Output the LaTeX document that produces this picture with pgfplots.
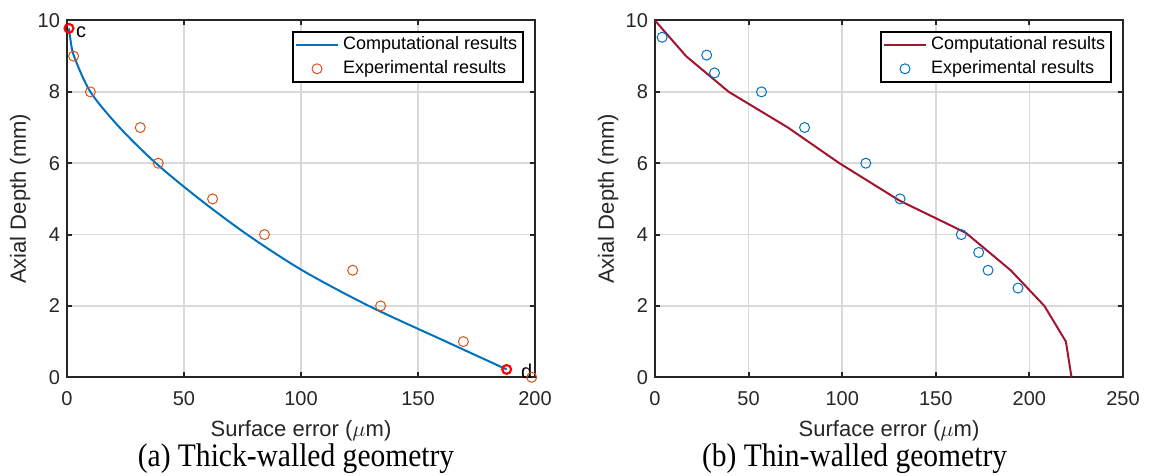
\documentclass[border=0pt]{standalone}
\usepackage{pgfplots}
\pgfplotsset{compat=1.18}
\usepackage{fontspec}
\setmainfont{Liberation Sans}
\newfontfamily\capfont[FakeStretch=0.9]{Liberation Serif}
\definecolor{mblue}{rgb}{0,0.447,0.741}
\definecolor{morange}{rgb}{0.85,0.325,0.098}
\definecolor{mred}{rgb}{0.635,0.078,0.184}
\definecolor{axgray}{rgb}{0.15,0.15,0.15}
\pgfplotsset{
  myaxis/.style={
    scale only axis, width=234pt, height=178.4pt,
    clip=false,
    axis line style={draw=axgray, line width=1pt},
    tick style={draw=axgray, line width=1pt},
    major tick length=2.5pt,
    tick align=inside,
    grid=major,
    major grid style={draw=black!15, line width=0.75pt},
    ymin=0, ymax=10, ytick={0,2,...,10},
    ticklabel style={font=\fontsize{10}{12}\selectfont, text=axgray},
    /pgf/number format/assume math mode=true,
    xticklabel style={yshift=-3.7pt},
    xlabel style={at={(axis description cs:0.5,0)}, anchor=base, yshift=-29.6pt, font=\fontsize{11}{12}\selectfont, text=axgray, inner sep=1pt},
    ylabel style={at={(axis description cs:-0.1,0.5)}, anchor=center, font=\fontsize{11}{13}\selectfont, text=axgray},
    xlabel={Surface error ($\mu$m)},
    ylabel={Axial Depth (mm)},
    legend style={at={(axis description cs:0.9765,0.971)}, anchor=north east, draw=black, line width=0.9pt,
      font=\fontsize{9}{10.5}\selectfont, inner xsep=1pt, inner ysep=0.5pt, row sep=0pt, cells={anchor=west}},
    legend image code/.code={\draw[mark repeat=2,mark phase=2,#1] plot coordinates {(0pt,0pt) (10.5pt,0pt) (21pt,0pt)};},
  }
}
\begin{document}
\begin{tikzpicture}
\useasboundingbox (0,0) rectangle (575pt,238pt);
\begin{axis}[myaxis, at={(33.5pt,49.35pt)}, anchor=south west,
  xmin=0, xmax=200, xtick={0,50,...,200}]
\addplot[mblue, line width=1pt, smooth] coordinates {
(0.85,9.78) (1.4,9.5) (3.0,9.0) (10,8.0) (22.5,7.0) (38,6.0) (56.5,5.0) (77,4.0) (100.5,3.0) (129,2.0) (162,1.0) (187.9,0.22)};
\addlegendentry{Computational results}
\addplot[only marks, mark=o, morange, mark size=2.5pt, mark options={line width=0.5pt}] coordinates {
(2.8,9) (10,8) (31.3,7) (39,6) (62.2,5) (84.4,4) (122.1,3) (134,2) (169.4,1) (198.6,0)};
\addlegendentry{Experimental results}
\addplot[only marks, mark=o, red, mark size=2.2pt, mark options={line width=1.1pt}, forget plot] coordinates {(0.85,9.78) (187.9,0.22)};
\node[anchor=west, font=\fontsize{10}{12}\selectfont, yshift=-2pt] at (axis cs:0.85,9.78) {c};
\node[anchor=west, font=\fontsize{10}{12}\selectfont, xshift=3.7pt, yshift=-1pt] at (axis cs:187.9,0.22) {d};
\end{axis}
\begin{axis}[myaxis, at={(327.5pt,49.35pt)}, anchor=south west,
  xmin=0, xmax=250, xtick={0,50,...,250}]
\addplot[mred, line width=1pt] coordinates {
(0,10) (16.6,9) (39.4,8) (71,7) (98.5,6) (130.7,4.95) (166,4.05) (190,3) (208,2) (219.5,1) (222.5,0)};
\addlegendentry{Computational results}
\addplot[only marks, mark=o, mblue, mark size=2.5pt, mark options={line width=0.5pt}] coordinates {
(3.8,9.53) (27.6,9.03) (31.8,8.53) (56.9,8.0) (79.9,7) (112.6,6) (130.9,5) (163.6,4) (172.9,3.5) (177.9,3.0) (193.9,2.5)};
\addlegendentry{Experimental results}
\end{axis}
\node[anchor=base, inner sep=1pt, font=\capfont\fontsize{16.4}{18}\selectfont] at (148pt,5pt) {(a) Thick-walled geometry};
\node[anchor=base, inner sep=1pt, font=\capfont\fontsize{16.4}{18}\selectfont] at (427.3pt,5pt) {(b) Thin-walled geometry};
\end{tikzpicture}
\end{document}
